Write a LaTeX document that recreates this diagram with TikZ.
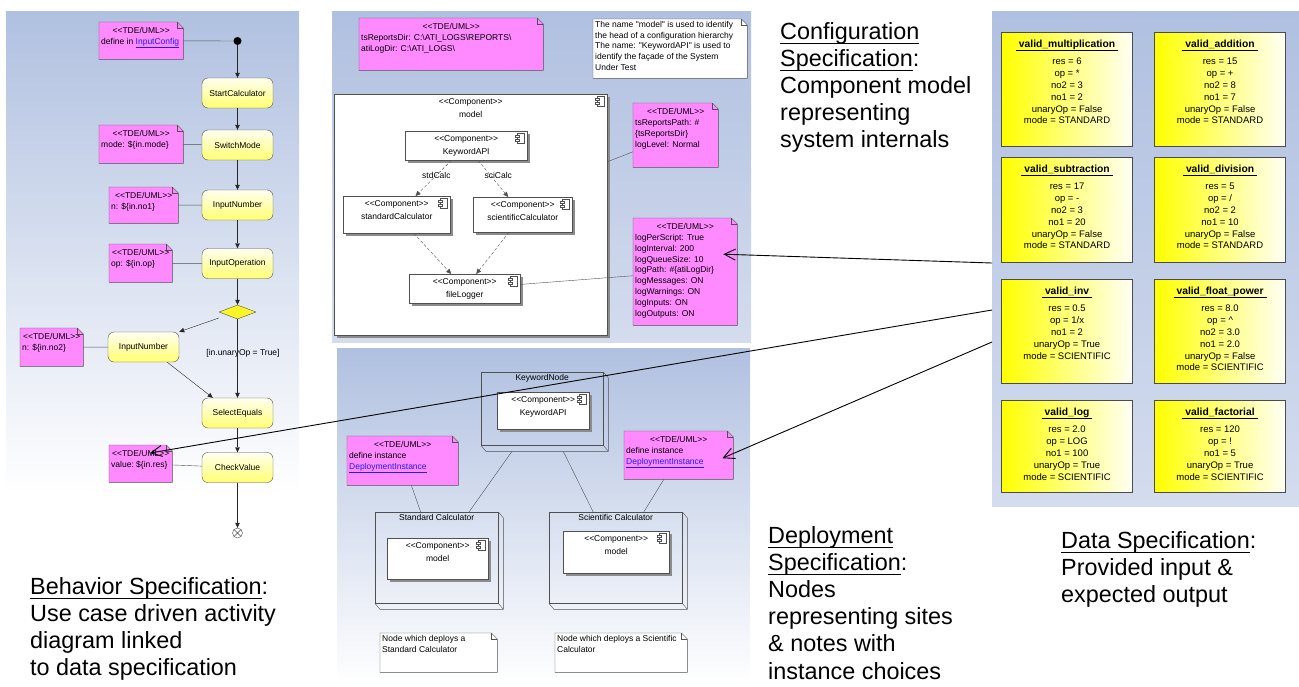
\documentclass[tikz,border=0pt]{standalone}
\usepackage{fontspec}
\setmainfont{Liberation Sans}[Ligatures=TeXOff]
\usetikzlibrary{arrows.meta}
\usetikzlibrary{shapes.geometric}
\usetikzlibrary{shadows}
\definecolor{panelblue}{RGB}{176,192,224}
\definecolor{panelpale}{RGB}{212,220,238}
\definecolor{notepink}{RGB}{255,138,255}
\definecolor{linkblue}{RGB}{30,30,235}
\definecolor{edgegray}{RGB}{80,80,80}
\pgfdeclarelayer{panels}
\pgfdeclarelayer{paper}
\pgfsetlayers{panels,paper,main}
\newsavebox\ulnbox
\newcommand{\umlsize}{\fontsize{8.5}{10.8}\selectfont}
\newcommand{\datasize}{\fontsize{9.5}{11.9}\selectfont}
\newcommand{\bigsize}{\fontsize{23.4}{27.2}\selectfont}
\newcommand{\uln}[3]{\sbox\ulnbox{#3}\rlap{\rule[-#1]{\wd\ulnbox}{#2}}\usebox\ulnbox}
\newcommand{\lnk}[1]{\textcolor{linkblue}{\underline{#1}}}
\newcommand{\tde}{{\centering\rule{0pt}{9.5pt}<<TDE/UML>>\par}\raggedright}
% bodies of notes, components, sites and data objects (sizes in px of the whole box)
\newcommand{\notebody}[3]{\parbox[t][\dimexpr#2pt-4pt\relax][t]{\dimexpr#1pt-4pt\relax}{\raggedright#3}}
\newcommand{\compbody}[3]{\parbox[t][#2pt][t]{#1pt}{\centering\rule{0pt}{10pt}<<Component>>\\[2.5pt]#3}}
\newcommand{\sitebody}[3]{\parbox[t][#2pt][t]{#1pt}{\centering\rule{0pt}{8pt}#3}}
\newcommand{\databody}[3]{\parbox[t][#1pt][t]{131pt}{\centering\rule{0pt}{14.5pt}%
  \uln{3.6pt}{1.1pt}{\hspace{3pt}{\fontsize{10.3}{12}\selectfont\bfseries #2}\hspace{3pt}}\\[5.5pt]#3}}
% paper of a note with its folded corner
\newcommand{\notepaper}[2]{%
  \begin{pgfonlayer}{paper}
    \draw[edgegray, fill=#2] (#1.south west) -- (#1.north west)
      -- ([xshift=-6pt]#1.north east) -- ([yshift=-6pt]#1.north east)
      -- (#1.south east) -- cycle;
    \draw[edgegray] ([xshift=-6pt]#1.north east) -- ++(0pt,-6pt) -- ([yshift=-6pt]#1.north east);
  \end{pgfonlayer}}
% component symbol in the upper right corner
\newcommand{\compicon}[1]{%
  \draw[edgegray, fill=white] ([shift={(-10pt,-2pt)}]#1.north east) rectangle ++(7pt,-10pt);
  \draw[edgegray, fill=white] ([shift={(-12pt,-4pt)}]#1.north east) rectangle ++(4pt,-2pt);
  \draw[edgegray, fill=white] ([shift={(-12pt,-8pt)}]#1.north east) rectangle ++(4pt,-2pt);}
% depth of a deployment node
\newcommand{\sitedepth}[1]{%
  \draw[edgegray] (#1.north east) -- ++(5pt,-6pt) -- ([shift={(5pt,-6pt)}]#1.south east)
    -- ([shift={(5pt,-6pt)}]#1.south west) -- (#1.south west)
    (#1.south east) -- ++(5pt,-6pt);}

\begin{document}
\begin{tikzpicture}[x=1pt,y=-1pt,
    flowarrow/.style={draw=black!85, -{Triangle[length=5pt,width=4.5pt]}},
    noteline/.style={draw=edgegray},
    dependarrow/.style={draw=edgegray, dash pattern=on 3pt off 2pt, -{Triangle[length=5pt,width=4.5pt]}},
    speclink/.style={draw=black, line width=0.9pt, -{Straight Barb[length=11pt,width=11pt]}},
    actbox/.style={draw=edgegray, rounded corners=6pt, top color=yellow!6, bottom color=yellow!55,
      minimum width=71pt, minimum height=30pt, inner sep=1pt, font=\umlsize},
    decbox/.style={diamond, draw=edgegray, fill=yellow!85, minimum width=37pt, minimum height=14pt, inner sep=0pt},
    startdot/.style={circle, fill=black, minimum size=8pt, inner sep=0pt},
    enddot/.style={circle, draw=edgegray, fill=white, minimum size=10pt, inner sep=0pt,
      path picture={\draw[edgegray] (path picture bounding box.north west) -- (path picture bounding box.south east)
        (path picture bounding box.north east) -- (path picture bounding box.south west);}},
    notebox/.style={anchor=north west, inner sep=2pt, font=\umlsize},
    compbox/.style={anchor=north west, inner sep=0pt, draw=edgegray, fill=white, font=\umlsize,
      drop shadow={shadow xshift=2.5pt, shadow yshift=-2.5pt, fill=black!45, opacity=1}},
    sitebox/.style={anchor=north west, inner sep=0pt, draw=edgegray, font=\umlsize},
    databox/.style={anchor=north west, inner sep=0pt, draw=black!70, line width=1.1pt,
      left color=yellow, right color=yellow!4, font=\datasize},
    speclabel/.style={anchor=north west, inner sep=0pt, align=left, font=\bigsize}]
\useasboundingbox (0,0) rectangle (1299,686);
\begin{pgfonlayer}{panels}
  \shade[top color=panelblue, bottom color=white] (6,11) rectangle (299,495);
  \shade[top color=panelblue, bottom color=panelpale] (332,11) rectangle (751,342);
  \shade[top color=panelblue, bottom color=white] (337,348) rectangle (750,686);
  \shade[top color=panelblue, bottom color=panelpale] (992,11) rectangle (1299,506);
\end{pgfonlayer}

% behavior specification
\node[startdot] (iStart) at (237.5,41) {};
\foreach \n/\y/\txt in {aStart/93/StartCalculator, aMode/145/SwitchMode, aNum1/205/InputNumber,
    aOp/263.5/InputOperation, aEquals/413/SelectEquals, aCheck/467.5/CheckValue}
  \node[actbox] (\n) at (237.5,\y) {\txt};
\node[decbox] (dUnary) at (237.5,312) {};
\node[actbox] (aNum2) at (143.5,347) {InputNumber};
\node[enddot] (iEnd) at (237.5,533) {};
\node[font=\umlsize] (lGuard) at (243,353) {[in.unaryOp = True]};
\node[notebox] (nInput) at (99,22) {\notebody{84}{37}{\tde define~in~\lnk{InputConfig}}};
\node[notebox] (nMode) at (99,125) {\notebody{84}{38}{\tde mode: \$\{in.mode\}}};
\node[notebox] (nNum1) at (109,187) {\notebody{69}{36}{\tde n: \$\{in.no1\}}};
\node[notebox] (nOp) at (109,244) {\notebody{63}{38}{\tde op: \$\{in.op\}}};
\node[notebox] (nNum2) at (20,328) {\notebody{63}{38}{\tde n: \$\{in.no2\}}};
\node[notebox] (nRes) at (109,445) {\notebody{63}{37}{\tde value:~\$\{in.res\}}};
\foreach \src/\dst in {iStart/aStart, aStart/aMode, aMode/aNum1, aNum1/aOp, aOp/dUnary,
    dUnary/aEquals, aEquals/aCheck, aCheck/iEnd}
  \draw[flowarrow] (\src) -- (\dst);
\draw[flowarrow] ([yshift=-6pt]dUnary.west) -- (aNum2.north east);
\draw[flowarrow] ([xshift=-12pt]aNum2.south east) -- ([xshift=11pt]aEquals.north west);
\foreach \src/\dst in {nInput/iStart, nMode/aMode, nNum1/aNum1, nOp/aOp, nNum2/aNum2, nRes/aCheck}
  \draw[noteline] (\src) -- (\dst);

% configuration specification
\node[notebox] (nDirs) at (359,18) {\notebody{184}{52}{\tde tsReportsDir: C:\textbackslash ATI\_LOGS\textbackslash REPORTS\textbackslash\\atiLogDir: C:\textbackslash ATI\_LOGS\textbackslash}};
\node[notebox] (nModel) at (593,19) {\notebody{154}{59}{The name "model" is used to identify\\the head of a configuration hierarchy\\The name: "KeywordAPI" is used to\\identify the façade of the System\\Under Test}};
\node[notebox] (nReports) at (633,103) {\notebody{85}{64}{\tde tsReportsPath: \#\\\{tsReportsDir\}\\logLevel: Normal}};
\node[notebox] (nLog) at (633,218) {\notebody{104}{107}{\tde logPerScript: True\\logInterval: 200\\logQueueSize: 10\\logPath: \#\{atiLogDir\}\\logMessages: ON\\logWarnings: ON\\logInputs: ON\\logOutputs: ON}};
\node[compbox] (cModel) at (334,94) {\compbody{273}{241}{model}};
\node[compbox] (cApi) at (405,131) {\compbody{122}{29}{KeywordAPI}};
\node[compbox] (cStd) at (343,196) {\compbody{107}{37}{standardCalculator}};
\node[compbox] (cSci) at (473,197) {\compbody{99}{35}{scientificCalculator}};
\node[compbox] (cLogger) at (409,274) {\compbody{111}{29}{fileLogger}};
\draw[dependarrow] (cApi) -- node[pos=0.42, font=\umlsize] {stdCalc} (cStd);
\draw[dependarrow] (cApi) -- node[pos=0.4, xshift=8pt, font=\umlsize] {sciCalc} (cSci);
\draw[dependarrow] (cStd) -- (cLogger);
\draw[dependarrow] (cSci) -- (cLogger);
\draw[noteline] (cModel) -- (nReports);
\draw[noteline] (cLogger) -- (nLog);

% deployment specification
\node[sitebox] (sKeyword) at (481,372) {\sitebody{122}{73}{KeywordNode}};
\node[sitebox] (sStd) at (375,512) {\sitebody{123}{91}{Standard Calculator}};
\node[sitebox] (sSci) at (549,512) {\sitebody{133}{91}{Scientific Calculator}};
\foreach \n in {sKeyword,sStd,sSci}
  {\sitedepth{\n}}
\node[compbox] (cApiDep) at (497,392) {\compbody{92}{37}{KeywordAPI}};
\node[compbox] (cStdModel) at (387,538) {\compbody{101}{41}{model}};
\node[compbox] (cSciModel) at (563,531) {\compbody{106}{42}{model}};
\node[notebox] (nDepStd) at (347,436) {\notebody{111}{49}{\tde define instance\\\lnk{DeploymentInstance}}};
\node[notebox] (nDepSci) at (624,431) {\notebody{109}{48}{\tde define instance\\\lnk{DeploymentInstance}}};
\node[notebox] (nStdInfo) at (380,633) {\notebody{117}{39}{Node which deploys a\\Standard Calculator}};
\node[notebox] (nSciInfo) at (555,633) {\notebody{132}{39}{Node which deploys a Scientific\\Calculator}};
\draw[noteline, shorten <=7pt] (sKeyword) -- (sStd);
\draw[noteline, shorten <=7pt] (sKeyword) -- (sSci);
\draw[noteline] (nDepStd) -- (sStd);
\draw[noteline] (nDepSci) -- (sSci);

\foreach \n in {cModel,cApi,cStd,cSci,cLogger,cApiDep,cStdModel,cSciModel}
  {\compicon{\n}}
\foreach \n in {nInput,nMode,nNum1,nOp,nNum2,nRes,nDirs,nReports,nLog,nDepStd,nDepSci}
  {\notepaper{\n}{notepink}}
\foreach \n in {nModel,nStdInfo,nSciInfo}
  {\notepaper{\n}{white}}

% data specification
\node[databox] (vMul) at (1001,32) {\databody{114}{valid\_multiplication}{res = 6\\op = *\\no2 = 3\\no1 = 2\\unaryOp = False\\mode = STANDARD}};
\node[databox] (vAdd) at (1154,32) {\databody{114}{valid\_addition}{res = 15\\op = +\\no2 = 8\\no1 = 7\\unaryOp = False\\mode = STANDARD}};
\node[databox] (vSub) at (1001,157) {\databody{105}{valid\_subtraction}{res = 17\\op = -\\no2 = 3\\no1 = 20\\unaryOp = False\\mode = STANDARD}};
\node[databox] (vDiv) at (1154,157) {\databody{105}{valid\_division}{res = 5\\op = /\\no2 = 2\\no1 = 10\\unaryOp = False\\mode = STANDARD}};
\node[databox] (vInv) at (1001,279) {\databody{104}{valid\_inv}{res = 0.5\\op = 1/x\\no1 = 2\\unaryOp = True\\mode = SCIENTIFIC}};
\node[databox] (vPow) at (1154,279) {\databody{104}{valid\_float\_power}{res = 8.0\\op = \textasciicircum\\no2 = 3.0\\no1 = 2.0\\unaryOp = False\\mode = SCIENTIFIC}};
\node[databox] (vLog) at (1001,400) {\databody{92}{valid\_log}{res = 2.0\\op = LOG\\no1 = 100\\unaryOp = True\\mode = SCIENTIFIC}};
\node[databox] (vFac) at (1154,400) {\databody{92}{valid\_factorial}{res = 120\\op = !\\no1 = 5\\unaryOp = True\\mode = SCIENTIFIC}};

% links from the data specification
\coordinate (sLog) at (992,263);
\coordinate (sRes) at (992,310);
\coordinate (sDep) at (992,342);
\draw[speclink] (sLog) -- ([shift={(-14,-17.5)}]nLog.east);
\draw[speclink] (sRes) -- ([shift={(41,8)}]nRes.north west);
\draw[speclink] (sDep) -- ([shift={(-11,3)}]nDepSci.east);

% captions
\node[speclabel] (lBehavior) at (30,577) {\uln{5pt}{1.5pt}{Behavior Specification}:\\Use case driven activity\\diagram linked\\to data specification};
\node[speclabel] (lConfig) at (780,22) {\uln{5pt}{1.5pt}{Configuration}\\\uln{5pt}{1.5pt}{Specification}:\\Component model\\representing\\system internals};
\node[speclabel] (lDeploy) at (768,526) {\uln{5pt}{1.5pt}{Deployment}\\\uln{5pt}{1.5pt}{Specification}:\\Nodes\\representing sites\\\& notes with\\instance choices};
\node[speclabel] (lData) at (1061,531) {\uln{5pt}{1.5pt}{Data Specification}:\\Provided input \&\\expected output};
\end{tikzpicture}
\end{document}
